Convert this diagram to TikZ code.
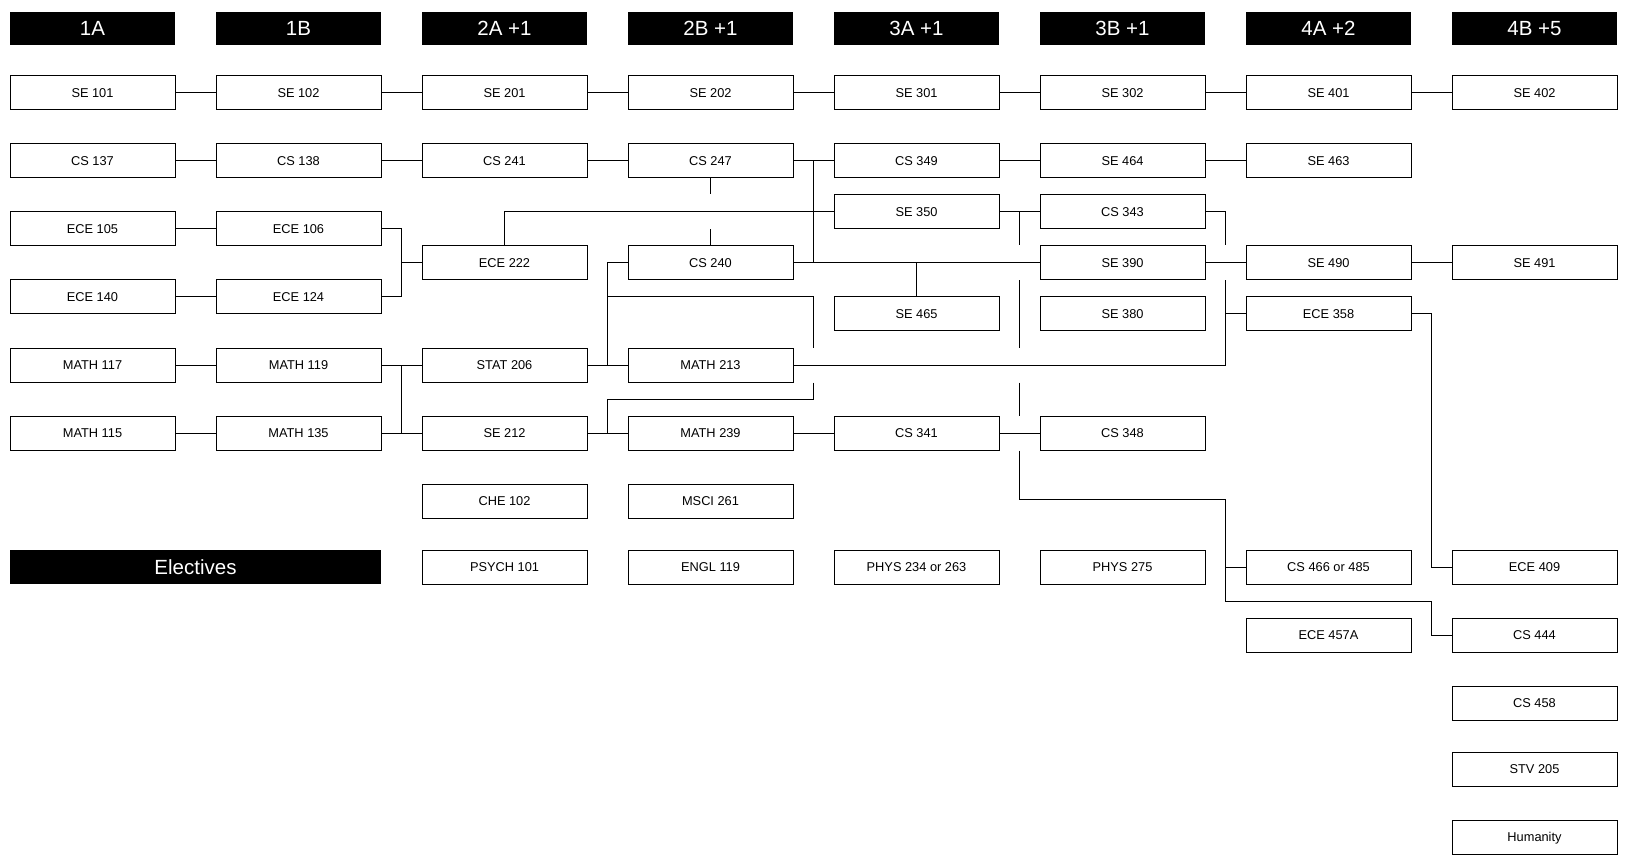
\documentclass[tikz,border=0pt]{standalone}
\usepackage{fontspec}
\setmainfont{Liberation Sans}
\usepackage{tikz}
\newcommand{\course}[3]{\node[course] (#1) at (#2) {#3};}
\newcommand{\term}[3]{\node[termbox] (#1) at (#2) {#3};}

\begin{document}
\begin{tikzpicture}[x=1pt,y=-1pt,line width=1pt,
    course/.style={draw, minimum width=165pt, minimum height=34pt, inner sep=0pt,
        text height=9.2pt, text depth=0pt, font=\fontsize{12.8}{15}\selectfont},
    termbox/.style={fill=black, text=white, minimum width=165pt, minimum height=33pt, inner sep=0pt,
        text height=14.7pt, text depth=0pt, font=\fontsize{20.5}{24}\selectfont}]
    \useasboundingbox (0,0) rectangle (1632,866);

    \term{t1a}{92.5,28.5}{1A}
    \term{t1b}{298.5,28.5}{1B}
    \term{t2a}{504.5,28.5}{2A +1}
    \term{t2b}{710.5,28.5}{2B +1}
    \term{t3a}{916.5,28.5}{3A +1}
    \term{t3b}{1122.5,28.5}{3B +1}
    \term{t4a}{1328.5,28.5}{4A +2}
    \term{t4b}{1534.5,28.5}{4B +5}
    \node[termbox, minimum width=371pt, minimum height=34pt] (elec) at (195.5,567) {Electives};

    \course{se101}{92.5,93}{SE 101}
    \course{cs137}{92.5,161}{CS 137}
    \course{ece105}{92.5,229}{ECE 105}
    \course{ece140}{92.5,297}{ECE 140}
    \course{mat117}{92.5,365}{MATH 117}
    \course{mat115}{92.5,433}{MATH 115}

    \course{se102}{298.5,93}{SE 102}
    \course{cs138}{298.5,161}{CS 138}
    \course{ece106}{298.5,229}{ECE 106}
    \course{ece124}{298.5,297}{ECE 124}
    \course{mat119}{298.5,365}{MATH 119}
    \course{mat135}{298.5,433}{MATH 135}

    \course{se201}{504.5,93}{SE 201}
    \course{cs241}{504.5,161}{CS 241}
    \course{ece222}{504.5,263}{ECE 222}
    \course{stat206}{504.5,365}{STAT 206}
    \course{se212}{504.5,433}{SE 212}
    \course{che102}{504.5,501}{CHE 102}
    \course{psych101}{504.5,567}{PSYCH 101}

    \course{se202}{710.5,93}{SE 202}
    \course{cs247}{710.5,161}{CS 247}
    \course{cs240}{710.5,263}{CS 240}
    \course{mat213}{710.5,365}{MATH 213}
    \course{mat239}{710.5,433}{MATH 239}
    \course{msci261}{710.5,501}{MSCI 261}
    \course{engl119}{710.5,567}{ENGL 119}

    \course{se301}{916.5,93}{SE 301}
    \course{cs349}{916.5,161}{CS 349}
    \course{se350}{916.5,212}{SE 350}
    \course{se465}{916.5,314}{SE 465}
    \course{cs341}{916.5,433}{CS 341}
    \course{phys234}{916.5,567}{PHYS 234 or 263}

    \course{se302}{1122.5,93}{SE 302}
    \course{se464}{1122.5,161}{SE 464}
    \course{cs343}{1122.5,212}{CS 343}
    \course{se390}{1122.5,263}{SE 390}
    \course{se380}{1122.5,314}{SE 380}
    \course{cs348}{1122.5,433}{CS 348}
    \course{phys275}{1122.5,567}{PHYS 275}

    \course{se401}{1328.5,93}{SE 401}
    \course{se463}{1328.5,161}{SE 463}
    \course{se490}{1328.5,263}{SE 490}
    \course{ece358}{1328.5,314}{ECE 358}
    \course{cs466}{1328.5,567}{CS 466 or 485}
    \course{ece457a}{1328.5,635}{ECE 457A}

    \course{se402}{1534.5,93}{SE 402}
    \course{se491}{1534.5,263}{SE 491}
    \course{ece409}{1534.5,567}{ECE 409}
    \course{cs444}{1534.5,635}{CS 444}
    \course{cs458}{1534.5,703}{CS 458}
    \course{stv205}{1534.5,769}{STV 205}
    \course{hum}{1534.5,837}{Humanity}

    \coordinate (gA) at (401.5,0);
    \coordinate (gB) at (607.5,0);
    \coordinate (gC) at (813.5,0);
    \coordinate (gD) at (1019.5,0);
    \coordinate (gE) at (1225.5,0);
    \coordinate (gF) at (1431.5,0);

    \draw (se101) -- (se102) -- (se201) -- (se202) -- (se301) -- (se302) -- (se401) -- (se402);
    \draw (cs137) -- (cs138) -- (cs241) -- (cs247) -- (cs349) -- (se464) -- (se463);
    \draw (ece105) -- (ece106);
    \draw (ece140) -- (ece124);
    \draw (mat117) -- (mat119) -- (stat206) -- (mat213);
    \draw (mat115) -- (mat135) -- (se212) -- (mat239) -- (cs341) -- (cs348);

    \draw (ece106.east) -| (gA |- ece222) |- (ece124.east);
    \draw (gA |- ece222) -- (ece222.west);
    \draw (gA |- mat119) -- (gA |- mat135);

    \draw (cs240.west) -| (gB |- mat213);
    \draw (gB |- se465.north) -| (gC |- mat213.north);
    \draw (gC |- mat213.south) -- ++(0,17) -| (gB |- mat239);

    \draw (ece222.north) |- (se350.west);
    \draw (cs247.south) -- (cs247.south |- se350.north);
    \draw (cs240.north) -- (cs240.north |- se350.south);
    \draw (gC |- cs247) -- (gC |- cs240);
    \draw (cs240) -- (se390);
    \draw (se465.north) -- (se465.north |- se390);

    \draw (mat213.east) -| (gE |- se390.south);
    \draw (cs343.east) -| (gE |- se390.north);
    \draw (gE |- ece358) -- (ece358.west);
    \draw (se390) -- (se490) -- (se491);

    \draw (se350) -- (cs343);
    \draw (gD |- se350) -- (gD |- se390.north);
    \draw (gD |- se390.south) -- (gD |- mat213.north);
    \draw (gD |- mat213.south) -- (gD |- cs348.north);
    \draw (gD |- cs348.south) -- ++(0,49) -| (gE |- cs466) -- ++(0,34) -| (gF |- cs444) -- (cs444.west);
    \draw (gE |- cs466) -- (cs466.west);
    \draw (ece358.east) -| (gF |- ece409) -- (ece409.west);
\end{tikzpicture}
\end{document}
